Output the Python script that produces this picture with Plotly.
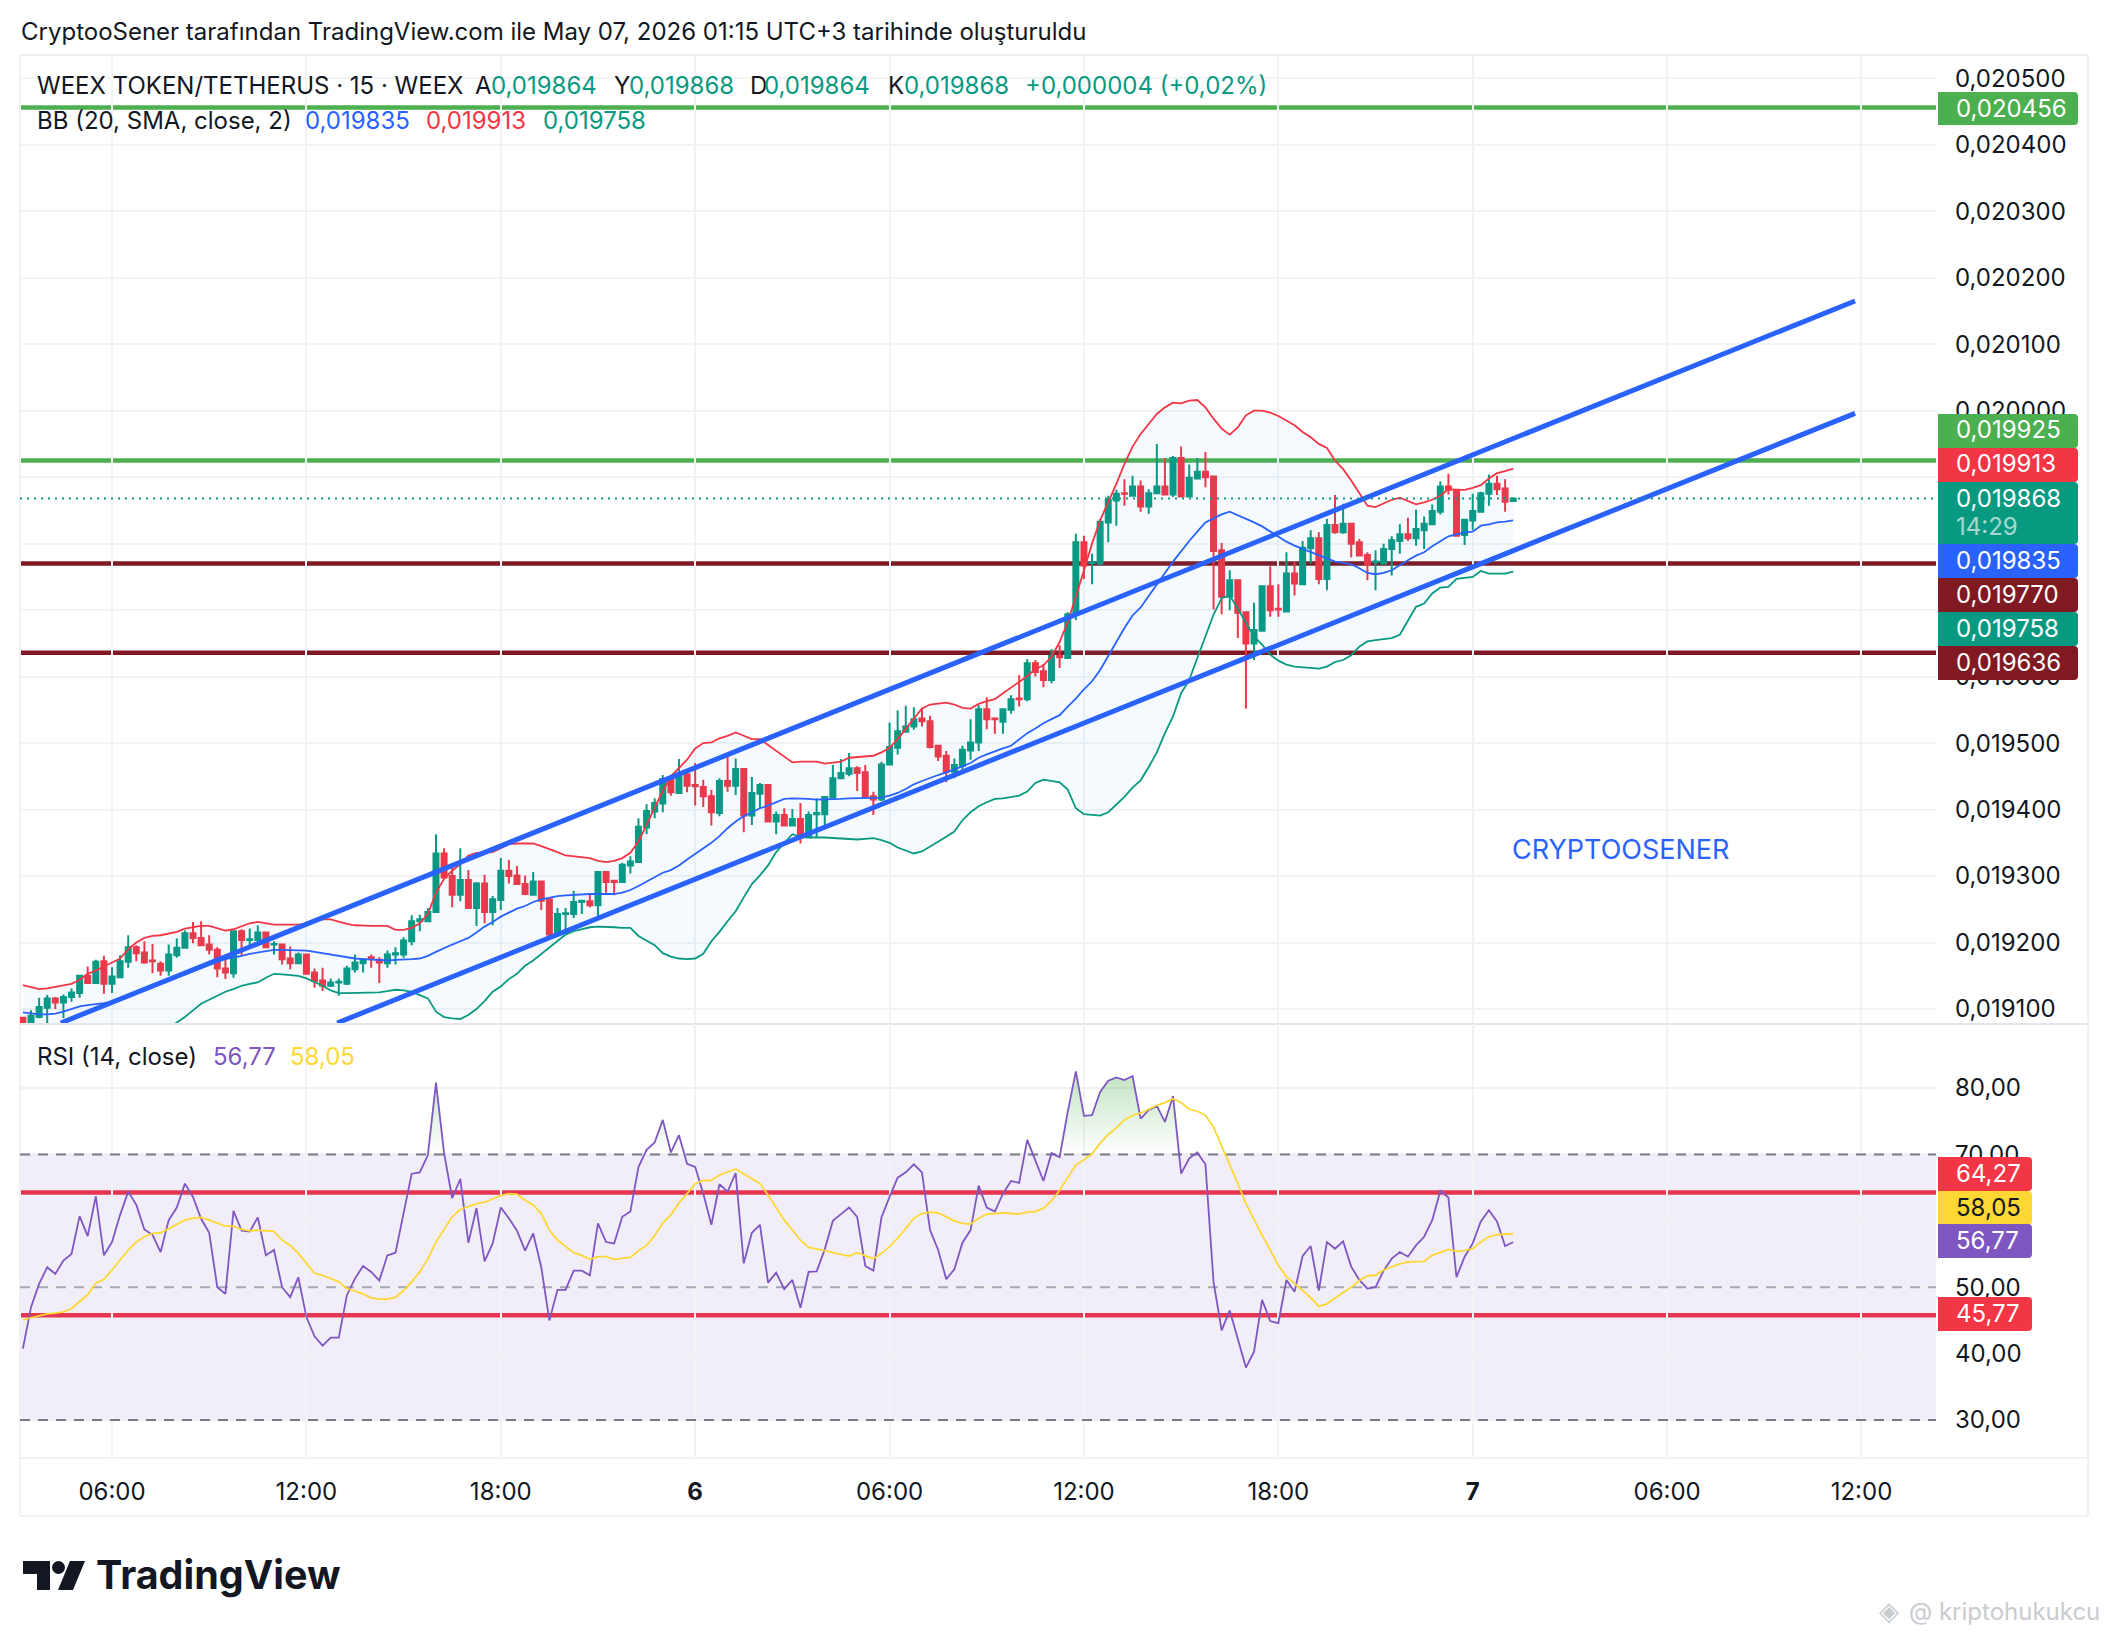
import pandas as pd
import plotly.graph_objs as go

W, H = 2108, 1636

## candle data, in millionths of a USDT
opens = [
    19087, 19077, 19088, 19102, 19116, 19110, 19118, 19124, 19150, 19139,
    19172, 19138, 19148, 19171, 19193, 19185, 19173, 19168, 19158, 19181,
    19192, 19214, 19207, 19197, 19189, 19161, 19154, 19217, 19204, 19204,
    19215, 19197, 19197, 19176, 19169, 19182, 19155, 19143, 19135, 19140,
    19138, 19160, 19169, 19178, 19174, 19169, 19182, 19182, 19202, 19232,
    19232, 19246, 19334, 19300, 19272, 19294, 19252, 19289, 19246, 19264,
    19308, 19301, 19288, 19272, 19292, 19265, 19212, 19243, 19243, 19261,
    19262, 19256, 19306, 19293, 19291, 19316, 19321, 19373, 19397, 19409,
    19447, 19425, 19453, 19437, 19434, 19420, 19395, 19443, 19436, 19461,
    19391, 19424, 19437, 19382, 19392, 19376, 19386, 19358, 19393, 19393,
    19418, 19447, 19454, 19462, 19456, 19420, 19415, 19468, 19493, 19517,
    19525, 19537, 19533, 19496, 19481, 19457, 19466, 19489, 19501, 19551,
    19537, 19532, 19550, 19567, 19566, 19620, 19608, 19595, 19631, 19628,
    19693, 19802, 19771, 19770, 19832, 19865, 19876, 19872, 19886, 19856,
    19876, 19886, 19874, 19929, 19871, 19898, 19908, 19901, 19790, 19720,
    19745, 19697, 19650, 19669, 19736, 19702, 19698, 19755, 19739, 19793,
    19808, 19747, 19828, 19817, 19830, 19802, 19783, 19772, 19770, 19792,
    19804, 19814, 19808, 19820, 19829, 19848, 19886, 19881, 19813, 19835,
    19848, 19875, 19890, 19883, 19864,
]
highs = [
    19087, 19098, 19117, 19121, 19118, 19122, 19131, 19150, 19164, 19174,
    19180, 19163, 19181, 19211, 19196, 19202, 19198, 19172, 19197, 19206,
    19218, 19231, 19232, 19211, 19193, 19175, 19217, 19220, 19221, 19226,
    19216, 19202, 19198, 19194, 19185, 19182, 19161, 19162, 19146, 19146,
    19165, 19182, 19176, 19182, 19178, 19188, 19193, 19208, 19241, 19242,
    19252, 19363, 19342, 19316, 19342, 19309, 19291, 19302, 19270, 19327,
    19324, 19315, 19301, 19306, 19292, 19265, 19252, 19252, 19278, 19263,
    19273, 19306, 19306, 19293, 19320, 19330, 19387, 19408, 19417, 19452,
    19449, 19476, 19457, 19470, 19445, 19430, 19447, 19485, 19477, 19461,
    19449, 19440, 19437, 19397, 19402, 19401, 19410, 19397, 19417, 19419,
    19467, 19476, 19485, 19465, 19467, 19427, 19472, 19531, 19549, 19556,
    19554, 19552, 19541, 19496, 19488, 19477, 19496, 19536, 19557, 19569,
    19537, 19551, 19572, 19602, 19626, 19625, 19619, 19641, 19647, 19697,
    19815, 19812, 19785, 19837, 19872, 19881, 19897, 19902, 19895, 19882,
    19950, 19929, 19932, 19946, 19919, 19929, 19938, 19901, 19801, 19760,
    19745, 19697, 19711, 19736, 19766, 19739, 19787, 19772, 19804, 19820,
    19817, 19837, 19873, 19860, 19830, 19807, 19787, 19790, 19800, 19811,
    19829, 19839, 19851, 19841, 19859, 19894, 19905, 19881, 19836, 19875,
    19878, 19904, 19902, 19897, 19868,
]
lows = [
    19075, 19075, 19086, 19079, 19100, 19086, 19111, 19117, 19139, 19139,
    19123, 19124, 19148, 19162, 19172, 19168, 19154, 19150, 19150, 19177,
    19192, 19199, 19195, 19182, 19148, 19145, 19147, 19180, 19195, 19204,
    19193, 19182, 19167, 19160, 19169, 19152, 19132, 19127, 19133, 19120,
    19136, 19155, 19155, 19162, 19139, 19162, 19167, 19177, 19196, 19217,
    19232, 19246, 19298, 19253, 19262, 19252, 19225, 19229, 19226, 19249,
    19289, 19288, 19271, 19272, 19249, 19207, 19212, 19213, 19237, 19243,
    19253, 19237, 19275, 19271, 19290, 19304, 19321, 19363, 19387, 19396,
    19421, 19425, 19426, 19406, 19404, 19376, 19390, 19427, 19422, 19366,
    19377, 19401, 19382, 19363, 19376, 19376, 19349, 19358, 19358, 19377,
    19418, 19447, 19450, 19428, 19419, 19392, 19413, 19468, 19483, 19517,
    19520, 19525, 19492, 19473, 19441, 19447, 19460, 19475, 19488, 19521,
    19514, 19514, 19544, 19555, 19563, 19600, 19584, 19590, 19613, 19628,
    19685, 19747, 19739, 19767, 19802, 19827, 19857, 19872, 19848, 19845,
    19876, 19874, 19870, 19871, 19871, 19898, 19885, 19701, 19694, 19700,
    19658, 19552, 19625, 19669, 19690, 19690, 19698, 19722, 19739, 19770,
    19739, 19730, 19815, 19815, 19779, 19782, 19745, 19730, 19770, 19752,
    19785, 19804, 19797, 19792, 19829, 19844, 19874, 19812, 19798, 19820,
    19848, 19857, 19873, 19848, 19864,
]
closes = [
    19079, 19090, 19103, 19116, 19110, 19118, 19125, 19150, 19139, 19171,
    19138, 19149, 19172, 19193, 19184, 19170, 19172, 19158, 19182, 19192,
    19214, 19207, 19196, 19189, 19161, 19155, 19217, 19204, 19205, 19215,
    19193, 19198, 19175, 19169, 19182, 19153, 19142, 19135, 19140, 19141,
    19161, 19170, 19175, 19176, 19170, 19182, 19184, 19203, 19232, 19235,
    19246, 19334, 19298, 19272, 19294, 19252, 19289, 19246, 19265, 19308,
    19300, 19288, 19273, 19292, 19263, 19212, 19243, 19244, 19261, 19263,
    19256, 19306, 19291, 19291, 19317, 19322, 19374, 19398, 19410, 19446,
    19426, 19454, 19436, 19435, 19420, 19396, 19443, 19436, 19461, 19391,
    19425, 19437, 19382, 19392, 19376, 19386, 19358, 19392, 19395, 19419,
    19447, 19455, 19462, 19455, 19419, 19415, 19468, 19494, 19518, 19525,
    19536, 19533, 19494, 19480, 19457, 19467, 19490, 19501, 19551, 19536,
    19536, 19551, 19566, 19566, 19620, 19607, 19595, 19631, 19629, 19694,
    19802, 19767, 19772, 19833, 19866, 19875, 19875, 19886, 19856, 19876,
    19886, 19874, 19929, 19871, 19899, 19908, 19900, 19789, 19720, 19745,
    19696, 19650, 19670, 19736, 19700, 19701, 19755, 19740, 19794, 19808,
    19747, 19828, 19817, 19830, 19800, 19782, 19768, 19773, 19792, 19805,
    19814, 19808, 19822, 19830, 19849, 19886, 19881, 19812, 19836, 19849,
    19876, 19890, 19882, 19863, 19868,
]

## bollinger bands
bb_upper = [
    19136, 19133, 19130, 19131, 19133, 19135, 19138, 19144, 19153, 19158,
    19164, 19170, 19176, 19190, 19200, 19207, 19210, 19211, 19213, 19216,
    19221, 19223, 19225, 19225, 19221, 19218, 19220, 19224, 19229, 19231,
    19229, 19227, 19227, 19227, 19227, 19229, 19232, 19235, 19235, 19231,
    19228, 19226, 19225, 19225, 19225, 19225, 19219, 19219, 19222, 19229,
    19243, 19275, 19296, 19308, 19318, 19331, 19335, 19336, 19336, 19342,
    19348, 19349, 19349, 19349, 19345, 19341, 19336, 19331, 19330, 19329,
    19327, 19323, 19321, 19323, 19327, 19335, 19352, 19377, 19403, 19428,
    19450, 19462, 19475, 19492, 19500, 19501, 19507, 19511, 19516, 19511,
    19506, 19506, 19497, 19488, 19479, 19471, 19472, 19472, 19472, 19469,
    19471, 19472, 19478, 19479, 19480, 19481, 19486, 19493, 19506, 19521,
    19536, 19552, 19558, 19560, 19561, 19558, 19553, 19552, 19559, 19563,
    19566, 19575, 19583, 19592, 19601, 19611, 19617, 19630, 19652, 19682,
    19720, 19760, 19800, 19835, 19862, 19890, 19920, 19946, 19965, 19980,
    19995, 20005, 20012, 20011, 20015, 20016, 20005, 19988, 19973, 19964,
    19975, 19993, 20000, 20000, 19997, 19992, 19985, 19978, 19968, 19960,
    19950, 19944, 19925, 19912, 19895, 19876, 19857, 19855, 19861, 19866,
    19869, 19864, 19859, 19862, 19866, 19872, 19882, 19881, 19881, 19884,
    19888, 19898, 19906, 19909, 19913,
]
bb_middle = [
    19095, 19093, 19092, 19092, 19093, 19096, 19100, 19104, 19106, 19107,
    19109, 19111, 19115, 19120, 19125, 19130, 19133, 19137, 19142, 19147,
    19152, 19157, 19162, 19167, 19171, 19175, 19177, 19180, 19183, 19185,
    19188, 19189, 19189, 19189, 19189, 19188, 19186, 19184, 19181, 19179,
    19177, 19176, 19175, 19174, 19173, 19173, 19174, 19174, 19175, 19176,
    19180, 19186, 19192, 19197, 19202, 19207, 19215, 19224, 19231, 19239,
    19245, 19251, 19255, 19261, 19265, 19268, 19270, 19271, 19272, 19273,
    19273, 19273, 19273, 19273, 19275, 19279, 19285, 19292, 19299, 19305,
    19309, 19316, 19325, 19333, 19342, 19350, 19360, 19372, 19382, 19390,
    19396, 19402, 19406, 19411, 19416, 19417, 19417, 19416, 19415, 19415,
    19416, 19416, 19417, 19417, 19417, 19418, 19418, 19421, 19425, 19431,
    19438, 19443, 19448, 19452, 19456, 19460, 19465, 19470, 19478, 19483,
    19488, 19492, 19496, 19506, 19515, 19522, 19530, 19536, 19542, 19555,
    19567, 19581, 19593, 19610, 19632, 19652, 19673, 19692, 19704, 19722,
    19738, 19756, 19773, 19789, 19804, 19818, 19832, 19838, 19844, 19848,
    19843, 19837, 19832, 19826, 19818, 19810, 19803, 19797, 19792, 19788,
    19783, 19777, 19773, 19771, 19769, 19763, 19756, 19754, 19756, 19760,
    19768, 19775, 19782, 19787, 19796, 19804, 19811, 19814, 19817, 19818,
    19827, 19829, 19832, 19833, 19835,
]
bb_lower = [
    19054, 19053, 19054, 19053, 19053, 19057, 19062, 19064, 19059, 19056,
    19054, 19052, 19054, 19050, 19050, 19053, 19056, 19063, 19071, 19079,
    19088, 19098, 19108, 19114, 19120, 19126, 19130, 19135, 19138, 19140,
    19147, 19153, 19152, 19151, 19150, 19146, 19141, 19135, 19128, 19124,
    19124, 19124, 19124, 19124, 19125, 19127, 19129, 19128, 19126, 19121,
    19116, 19096, 19088, 19086, 19085, 19091, 19100, 19112, 19126, 19134,
    19145, 19153, 19165, 19173, 19183, 19192, 19203, 19212, 19217, 19220,
    19223, 19224, 19224, 19223, 19222, 19222, 19210, 19203, 19196, 19184,
    19179, 19176, 19175, 19176, 19183, 19202, 19216, 19232, 19247, 19268,
    19288, 19301, 19316, 19336, 19350, 19363, 19359, 19358, 19358, 19358,
    19357, 19356, 19355, 19355, 19356, 19357, 19354, 19350, 19343, 19338,
    19334, 19337, 19344, 19352, 19359, 19367, 19384, 19396, 19405, 19411,
    19416, 19417, 19419, 19421, 19427, 19440, 19445, 19443, 19441, 19430,
    19402, 19393, 19392, 19391, 19396, 19407, 19419, 19433, 19444, 19464,
    19486, 19515, 19540, 19575, 19595, 19628, 19660, 19693, 19718, 19722,
    19702, 19682, 19660, 19648, 19633, 19624, 19618, 19615, 19614, 19613,
    19612, 19615, 19622, 19625, 19632, 19645, 19653, 19655, 19656, 19658,
    19663, 19685, 19705, 19710, 19725, 19734, 19735, 19747, 19749, 19750,
    19759, 19755, 19755, 19755, 19758,
]

## rsi pane
rsi = [
    40.75, 47, 50.5, 53, 52, 54, 55, 60.7, 57.7, 63.7,
    54.8, 56.8, 60.9, 64.4, 62.4, 58.7, 57.9, 55.3, 60.1, 62,
    65.6, 63.6, 60.3, 58.2, 50, 49, 61.5, 58.5, 58.4, 60.5,
    54.8, 55.6, 50, 48.5, 51.5, 45.5, 42.6, 41.2, 42.4, 42.4,
    48.8, 51.3, 53.2, 52.3, 51, 54.8, 55.2, 61.1, 67.1, 67.3,
    69.9, 80.8, 70.2, 63.4, 66.3, 56.7, 61.9, 53.9, 56.6, 62,
    60.4, 58.5, 55.5, 58.1, 53, 45, 49.6, 49.6, 52.5, 52.5,
    51.8, 59.6, 56.8, 56.6, 60.6, 61.4, 68.1, 70.7, 71.8, 75.2,
    70.3, 72.9, 68.6, 68.1, 64.1, 59.4, 65.5, 64.4, 67.2, 53.6,
    58.2, 59.4, 50.7, 52.2, 49.7, 51.1, 46.9, 52.3, 52.4, 55.7,
    60, 61, 62, 60.6, 53.2, 52.5, 60.5, 63.6, 66.5, 67.3,
    68.5, 67.3, 58.6, 55.6, 51.2, 52.7, 56.7, 58.6, 65.3, 62,
    61.4, 64.1, 66, 65.7, 72.2, 69.1, 66, 70.2, 69.6, 76.4,
    82.5, 75.8, 75.9, 79.4, 81.1, 81.6, 81.2, 81.8, 75.4, 76.7,
    77.3, 74.9, 78.8, 67.1, 69.4, 70.3, 68.5, 50.8, 43.5, 46.5,
    42, 37.9, 40.3, 48.1, 44.9, 44.6, 51.1, 49.3, 54.7, 56.2,
    49.5, 56.8, 55.8, 56.9, 53.1, 51.1, 49.8, 50, 52.5, 54.3,
    55.3, 54.6, 56.3, 57.6, 60.1, 64.5, 63.5, 51.5, 54.6, 56.6,
    59.9, 61.6, 59.9, 56.2, 56.77,
]
rsi_ma = [
    45.1, 45.4, 45.8, 46, 46.1, 46.3, 46.8, 47.8, 48.9, 50.6,
    51.2, 52.6, 54.1, 55.6, 56.8, 57.6, 58.1, 58.2, 58.8, 59.5,
    60.1, 60.4, 60.5, 60.1, 59.7, 59.2, 59.2, 58.7, 58.5, 58.6,
    58.5, 58.4, 57.1, 56.3, 55.1, 53.6, 52.1, 51.8, 51.3, 50.8,
    49.8, 49.4, 49, 48.4, 48.2, 48.2, 48.5, 49.5, 50.8, 52.3,
    54.3, 56.8, 58.8, 60.6, 61.7, 62.1, 62.6, 62.8, 63.3, 63.8,
    64.1, 64, 63.1, 62.4, 61.1, 58.6, 57.1, 56.1, 55.2, 54.8,
    54.2, 54.6, 54.6, 54.2, 54.3, 54.5, 55.5, 56.3, 57.8, 59.7,
    60.9, 62.7, 64.1, 65.6, 66.1, 66.1, 66.9, 67.4, 67.8, 67.1,
    66.4, 65.6, 63.9, 61.9, 60.1, 58.6, 57.1, 56, 55.8, 55.5,
    55.2, 55, 54.7, 55.2, 54.8, 54.3, 55.1, 56.1, 57.4, 58.8,
    60.4, 61.1, 61.3, 61.2, 60.6, 60, 59.6, 59.5, 60.4, 61,
    61.1, 61.2, 61.1, 61, 61.3, 61.4, 61.9, 63, 64.6, 66.6,
    68.4, 69.2, 70.1, 71.7, 73, 74, 75.2, 75.9, 76.2, 76.8,
    77.4, 77.8, 78.4, 77.8, 76.8, 76.5, 75.9, 74.1, 71.3, 68.4,
    65.6, 62.6, 60.1, 57.8, 55.6, 53.3, 51.6, 50.6, 49.5, 48.4,
    47.1, 47.5, 48.4, 49.2, 50, 51, 51.7, 51.8, 52.6, 53.1,
    53.5, 53.8, 53.8, 53.9, 54.8, 55.3, 55.7, 55.4, 55.5, 55.8,
    56.8, 57.6, 57.9, 58, 58.05,
]

## drawings on the chart
channel_upper_x = ["2026-05-05 04:25", "2026-05-07 11:48"]
channel_upper_y = [0.019079, 0.020165]
channel_lower_x = ["2026-05-05 12:57", "2026-05-07 11:48"]
channel_lower_y = [0.019079, 0.019996]
green_levels = [0.020456, 0.019925]
red_levels = [0.019770, 0.019636]
last_price = 0.019868
rsi_levels = [64.27, 45.77]
x_range = ["2026-05-05 03:09:36", "2026-05-07 14:18"]

## axis ticks, labels that the scale tags fully cover are left blank
price_ticks = [0.0191, 0.0192, 0.0193, 0.0194, 0.0195, 0.0196, 0.0197, 0.0198, 0.0199, 0.0200, 0.0201, 0.0202,
               0.0203, 0.0204, 0.0205]
price_labels = ["0,019100", "0,019200", "0,019300", "0,019400", "0,019500", "0,019600", "", "", "", "0,020000",
                "0,020100", "0,020200", "0,020300", "0,020400", "0,020500"]
rsi_ticks = [30, 40, 50, 60, 70, 80]
rsi_labels = ["30,00", "40,00", "50,00", "", "70,00", "80,00"]
time_ticks = ["2026-05-05 06:00", "2026-05-05 12:00", "2026-05-05 18:00", "2026-05-06 00:00",
              "2026-05-06 06:00", "2026-05-06 12:00", "2026-05-06 18:00", "2026-05-07 00:00",
              "2026-05-07 06:00", "2026-05-07 12:00"]
time_labels = ["06:00", "12:00", "18:00", "<b>6</b>", "06:00", "12:00", "18:00", "<b>7</b>", "06:00", "12:00"]

## colored tags on the price scale
tag_labels = ["0,020456", "0,019925", "0,019913", "0,019868", "0,019835", "0,019770", "0,019758", "0,019636"]
tag_colors = ["#4CAF50", "#4CAF50", "#F23645", "#089981", "#2962FF", "#801922", "#089981", "#801922"]
tag_tops = [92, 414, 448, 482, 544, 578, 612, 646]
tag_heights = [33, 34, 34, 62, 34, 34, 34, 34]
rsi_tag_labels = ["64,27", "58,05", "56,77", "45,77"]
rsi_tag_colors = ["#F23645", "#FDD835", "#7E57C2", "#F23645"]
rsi_tag_tops = [1157, 1191, 1224, 1297]

FONT = "Inter"
INK = "#131722"
UP = "#089981"
DOWN = "#F23645"
BLUE = "#2962FF"
GRID = "#F2F3F5"


def px_x(v):
    return v / W


def px_y(v):
    return 1 - v / H


def to_price(values):
    return [v / 1e6 for v in values]


def text_at(fig, x, y, text, color=INK, size=24, family=FONT):
    fig.add_annotation(x=px_x(x), y=px_y(y), xref="paper", yref="paper", text=text, showarrow=False,
                       xanchor="left", yanchor="middle", align="left", borderpad=0,
                       font=dict(family=family, size=size, color=color))


def add_tag(fig, top, height, right, color):
    # little flag on the scale, rounded on the right side
    left = 1938
    bottom = top + height
    r = 4
    path = (f"M {px_x(left)} {px_y(top)} L {px_x(right - r)} {px_y(top)} "
            f"Q {px_x(right)} {px_y(top)} {px_x(right)} {px_y(top + r)} "
            f"L {px_x(right)} {px_y(bottom - r)} "
            f"Q {px_x(right)} {px_y(bottom)} {px_x(right - r)} {px_y(bottom)} "
            f"L {px_x(left)} {px_y(bottom)} Z")
    fig.add_shape(type="path", path=path, xref="paper", yref="paper", fillcolor=color,
                  line_width=0, layer="above")


bar_times = pd.date_range("2026-05-05 03:15", periods=len(closes), freq="15min")

fig = go.Figure()

# bollinger bands
fig.add_trace(go.Scatter(x=bar_times, y=to_price(bb_upper), mode="lines", line=dict(color=DOWN, width=1.8),
                         hoverinfo="skip"))
fig.add_trace(go.Scatter(x=bar_times, y=to_price(bb_lower), mode="lines", line=dict(color=UP, width=1.8),
                         fill="tonexty", fillcolor="rgba(33,150,243,0.05)", hoverinfo="skip"))
fig.add_trace(go.Scatter(x=bar_times, y=to_price(bb_middle), mode="lines", line=dict(color=BLUE, width=1.8),
                         hoverinfo="skip"))

# trend channel
fig.add_trace(go.Scatter(x=channel_upper_x, y=channel_upper_y, mode="lines", line=dict(color=BLUE, width=5),
                         hoverinfo="skip"))
fig.add_trace(go.Scatter(x=channel_lower_x, y=channel_lower_y, mode="lines", line=dict(color=BLUE, width=5),
                         hoverinfo="skip"))

# candles
fig.add_trace(go.Candlestick(x=bar_times, open=to_price(opens), high=to_price(highs), low=to_price(lows),
                             close=to_price(closes), whiskerwidth=0,
                             increasing=dict(line=dict(color=UP, width=2), fillcolor=UP),
                             decreasing=dict(line=dict(color=DOWN, width=2), fillcolor=DOWN),
                             hoverinfo="skip"))

# dashed rsi levels as traces, shapes would end up under the gridlines
for level, color in [(70, "#787B86"), (50, "rgba(120,123,134,0.6)"), (30, "#787B86")]:
    fig.add_trace(go.Scatter(x=x_range, y=[level, level], yaxis="y2", mode="lines",
                             line=dict(color=color, width=2, dash="10px,8px"), hoverinfo="skip"))

# rsi: green area above 70 first, then the two lines
rsi_over = [max(v, 70) for v in rsi]
fig.add_trace(go.Scatter(x=bar_times, y=[70] * len(rsi), yaxis="y2", mode="lines", line=dict(width=0),
                         hoverinfo="skip"))
fig.add_trace(go.Scatter(x=bar_times, y=rsi_over, yaxis="y2", mode="lines", line=dict(width=0), fill="tonexty",
                         fillgradient=dict(type="vertical",
                                           colorscale=[[0, "rgba(76,175,80,0)"], [1, "rgba(76,175,80,0.35)"]]),
                         hoverinfo="skip"))
fig.add_trace(go.Scatter(x=bar_times, y=rsi, yaxis="y2", mode="lines", line=dict(color="#7E57C2", width=1.8),
                         hoverinfo="skip"))
fig.add_trace(go.Scatter(x=bar_times, y=rsi_ma, yaxis="y2", mode="lines", line=dict(color="#FDD835", width=1.8),
                         hoverinfo="skip"))

# horizontal levels
for level in green_levels:
    fig.add_shape(type="line", xref="x domain", yref="y", x0=0, x1=1, y0=level, y1=level,
                  line=dict(color="#4CAF50", width=4.5), layer="below")
for level in red_levels:
    fig.add_shape(type="line", xref="x domain", yref="y", x0=0, x1=1, y0=level, y1=level,
                  line=dict(color="#801922", width=4.5), layer="below")
fig.add_shape(type="line", xref="x domain", yref="y", x0=0, x1=1, y0=last_price, y1=last_price,
              line=dict(color=UP, width=2, dash="2px,5px"), layer="above")

# rsi band and solid levels
fig.add_shape(type="rect", xref="x domain", yref="y2", x0=0, x1=1, y0=30, y1=70,
              fillcolor="rgba(126,87,194,0.1)", line_width=0, layer="below")
for level in rsi_levels:
    fig.add_shape(type="line", xref="x domain", yref="y2", x0=0, x1=1, y0=level, y1=level,
                  line=dict(color="#E6364F", width=4.5), layer="below")

# outer frame and pane separators
for x0, y0, x1, y1, color in [(20, 55, 2088, 55, "#F0F1F4"), (2088, 55, 2088, 1516, "#F0F1F4"),
                              (20, 1516, 2088, 1516, "#F0F1F4"), (20, 55, 20, 1516, "#F0F1F4"),
                              (20, 1024, 2088, 1024, "#E4E6EC"), (20, 1458, 2088, 1458, "#F0F1F4")]:
    fig.add_shape(type="line", xref="paper", yref="paper", x0=px_x(x0), x1=px_x(x1), y0=px_y(y0), y1=px_y(y1),
                  line=dict(color=color, width=2), layer="below")

# scale tags
for label, color, top, height in zip(tag_labels, tag_colors, tag_tops, tag_heights):
    add_tag(fig, top, height, 2078, color)
    text_at(fig, 1955, top + 16, label, color="white")
text_at(fig, 1955, 526, "14:29", color="rgba(255,255,255,0.65)")
for label, color, top in zip(rsi_tag_labels, rsi_tag_colors, rsi_tag_tops):
    add_tag(fig, top, 34, 2032, color)
    text_at(fig, 1955, top + 16, label, color=INK if color == "#FDD835" else "white")

# header and legends
text_at(fig, 20, 31, "CryptooSener tarafından TradingView.com ile May 07, 2026 01:15 UTC+3 tarihinde oluşturuldu")
text_at(fig, 36, 86, "WEEX TOKEN/TETHERUS · 15 · WEEX")
for x, label, color in [(474, "A", INK), (490, "0,019864", UP), (613, "Y", INK), (628, "0,019868", UP),
                        (749, "D", INK), (763, "0,019864", UP), (887, "K", INK), (903, "0,019868", UP),
                        (1024, "+0,000004 (+0,02%)", UP)]:
    text_at(fig, x, 86, label, color=color)
for x, label, color in [(36, "BB (20, SMA, close, 2)", INK), (304, "0,019835", BLUE), (425, "0,019913", DOWN),
                        (542, "0,019758", UP)]:
    text_at(fig, x, 120, label, color=color)
for x, label, color in [(36, "RSI (14, close)", INK), (212, "56,77", "#7E57C2"), (289, "58,05", "#FDD835")]:
    text_at(fig, x, 1056, label, color=color)
text_at(fig, 1511, 849, "CRYPTOOSENER", color=BLUE, size=27)

# tradingview logo
logo_t = [(23, 1561), (50, 1561), (50, 1590), (37, 1590), (37, 1574), (23, 1574)]
logo_slash = [(70, 1561), (85, 1561), (73, 1590), (58, 1590)]
for pts in (logo_t, logo_slash):
    path = "M " + " L ".join(f"{px_x(a)} {px_y(b)}" for a, b in pts) + " Z"
    fig.add_shape(type="path", path=path, xref="paper", yref="paper", fillcolor=INK, line_width=0)
fig.add_shape(type="circle", xref="paper", yref="paper", x0=px_x(52), x1=px_x(65), y0=px_y(1574), y1=px_y(1561),
              fillcolor=INK, line_width=0)
text_at(fig, 95, 1575, "<b>TradingView</b>", size=39.5)

# watermark
text_at(fig, 1878, 1611, "◈", color="#C9CBD0", size=26, family="DejaVu Sans")
text_at(fig, 1908, 1611, "@ kriptohukukcu", color="#C9CBD0", size=24)

fig.update_layout(
    width=W, height=H,
    margin=dict(l=0, r=0, t=0, b=0),
    paper_bgcolor="white", plot_bgcolor="white",
    showlegend=False,
    boxgap=0.12,
    hovermode=False,
    font=dict(family=FONT, size=24, color=INK),
    xaxis=dict(domain=[px_x(20), px_x(1936)], anchor="y2", type="date", range=x_range,
               tickvals=time_ticks, ticktext=time_labels, ticklen=0, ticklabelstandoff=17,
               showgrid=True, gridcolor=GRID, gridwidth=2, zeroline=False, showline=False,
               rangeslider=dict(visible=False)),
    yaxis=dict(domain=[px_y(1023), px_y(55)], side="right", range=[0.019079, 0.020535],
               tickvals=price_ticks, ticktext=price_labels, ticklen=0, ticklabelstandoff=18,
               showgrid=True, gridcolor=GRID, gridwidth=2, zeroline=False, showline=False),
    yaxis2=dict(domain=[px_y(1458), px_y(1024)], side="right", range=[24.28, 89.64], anchor="x",
                tickvals=rsi_ticks, ticktext=rsi_labels, ticklen=0, ticklabelstandoff=18,
                showgrid=True, gridcolor="#F0F0F3", gridwidth=2, zeroline=False, showline=False),
)

fig.write_html("out.html", config=dict(displayModeBar=False), post_script="document.body.style.margin='0';")
